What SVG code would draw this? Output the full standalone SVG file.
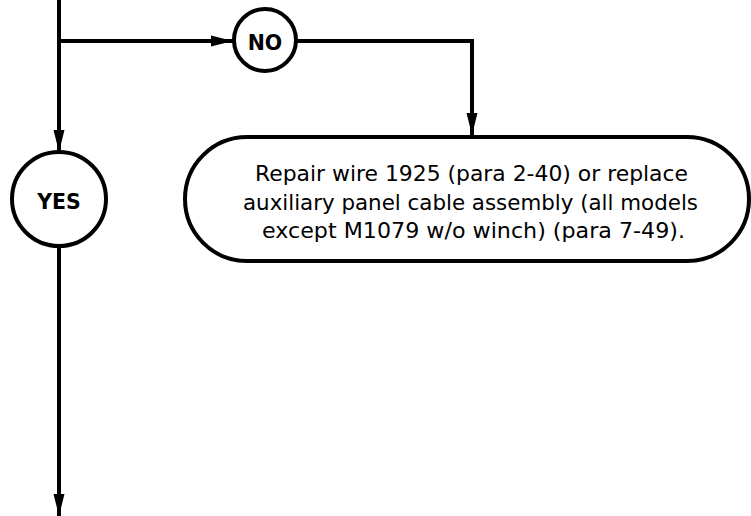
<svg xmlns="http://www.w3.org/2000/svg" width="751" height="516" viewBox="0 0 751 516">
<style>
.ln{fill:none;stroke:#000;stroke-width:4}
.nd{fill:#fff;stroke:#000;stroke-width:4}
.lb{font-family:"DejaVu Sans",sans-serif;font-weight:bold;font-size:20.5px;text-anchor:middle}
.tx{font-family:"DejaVu Sans",sans-serif;font-size:21.5px;text-anchor:middle}
</style>
<defs>
<marker id="ah" markerUnits="userSpaceOnUse" markerWidth="22" markerHeight="12" refX="22" refY="6" orient="auto">
<path d="M0,0.5 L22,6 L0,11.5 Z" fill="#000"/>
</marker>
</defs>
<rect width="751" height="516" fill="#fff"/>
<g id="connectors">
<path class="ln" d="M59,0 V152" marker-end="url(#ah)"/>
<path class="ln" d="M59,41 H233" marker-end="url(#ah)"/>
<path class="ln" d="M297,41 H472 V135" marker-end="url(#ah)"/>
<path class="ln" d="M59,247 V516" marker-end="url(#ah)"/>
</g>
<g id="no">
<circle class="nd" cx="265" cy="40" r="31"/>
<text class="lb" x="265" y="49.5">NO</text>
</g>
<g id="yes">
<circle class="nd" cx="59" cy="199" r="47"/>
<text class="lb" x="59" y="208.5">YES</text>
</g>
<g id="repair">
<rect class="nd" x="185" y="137" width="564" height="124" rx="62" ry="62"/>
<text class="tx" x="471.5" y="181" textLength="433" lengthAdjust="spacingAndGlyphs">Repair wire 1925 (para 2-40) or replace</text>
<text class="tx" x="470.5" y="209.5" textLength="455" lengthAdjust="spacingAndGlyphs">auxiliary panel cable assembly (all models</text>
<text class="tx" x="473.5" y="238" textLength="423" lengthAdjust="spacingAndGlyphs">except M1079 w/o winch) (para 7-49).</text>
</g>
</svg>
